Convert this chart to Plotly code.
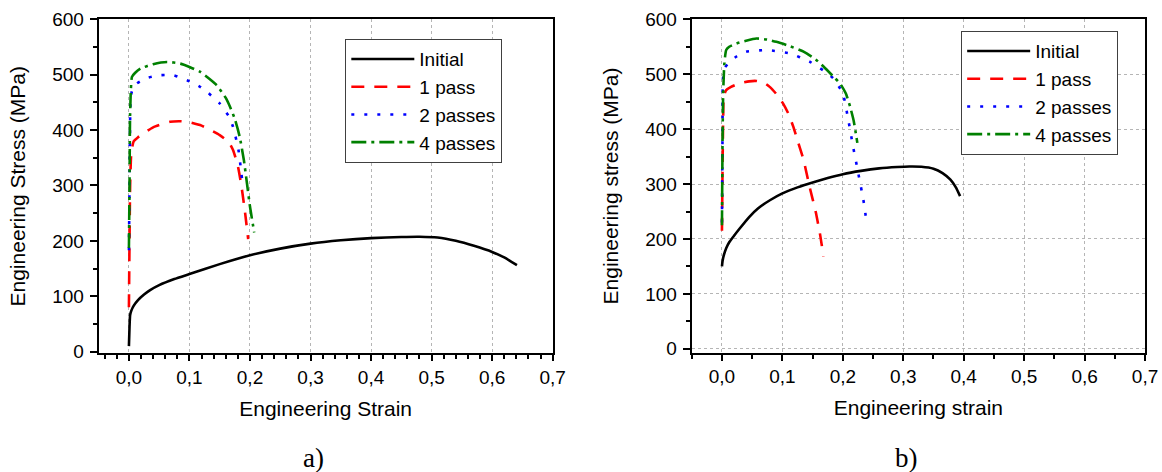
import plotly.graph_objects as go

# ---------------- data: panel a) ----------------
a_initial_strain = [0.0, 0.001, 0.002, 0.004, 0.008, 0.015, 0.025, 0.035, 0.05, 0.075, 0.1, 0.15, 0.2, 0.25, 0.3, 0.35, 0.4, 0.45, 0.48, 0.51, 0.54, 0.57, 0.6, 0.62, 0.641]
a_initial_stress = [10, 45, 66, 74, 83, 93, 103, 111, 120, 131, 140, 158, 174, 186, 195, 201, 205, 207, 207.5, 206, 200, 191, 180, 170, 156]

a_pass1_strain = [0.0, 0.001, 0.002, 0.004, 0.008, 0.015, 0.024, 0.04, 0.068, 0.085, 0.096, 0.12, 0.15, 0.165, 0.172, 0.18, 0.186, 0.192, 0.197]
a_pass1_stress = [80, 200, 300, 360, 380, 387, 394, 405, 415, 416, 415, 408, 391, 378, 364, 335, 298, 250, 203]

a_pass2_strain = [0.0, 0.001, 0.002, 0.003, 0.006, 0.013, 0.03, 0.052, 0.074, 0.096, 0.115, 0.129, 0.15, 0.165, 0.172, 0.181, 0.186, 0.188]
a_pass2_stress = [183, 300, 420, 460, 474, 484, 494, 499, 499, 490, 480, 469, 448, 425, 406, 364, 320, 300]

a_pass4_strain = [0.0, 0.001, 0.002, 0.005, 0.01, 0.019, 0.04, 0.063, 0.085, 0.1, 0.118, 0.145, 0.16, 0.167, 0.175, 0.183, 0.19, 0.195, 0.2, 0.207]
a_pass4_stress = [187, 300, 430, 496, 503, 511, 519, 523, 520, 514, 505, 481, 458, 442, 420, 388, 345, 304, 262, 215]

# ---------------- data: panel b) ----------------
b_initial_strain = [0.0, 0.001, 0.003, 0.007, 0.012, 0.02, 0.03, 0.045, 0.06, 0.08, 0.1, 0.125, 0.15, 0.175, 0.2, 0.23, 0.26, 0.29, 0.31, 0.33, 0.35, 0.365, 0.378, 0.387, 0.394]
b_initial_stress = [150, 160, 170, 183, 194, 206, 220, 240, 256, 271, 283, 294, 303, 311, 318, 324, 328.5, 331, 332, 331.5, 328, 320, 308, 294, 278]

b_pass1_strain = [0.0, 0.001, 0.002, 0.003, 0.007, 0.015, 0.029, 0.045, 0.057, 0.07, 0.079, 0.09, 0.101, 0.11, 0.118, 0.126, 0.135, 0.145, 0.155, 0.162, 0.168]
b_pass1_stress = [215, 330, 420, 460, 471, 477, 483.5, 487, 487.7, 484, 477, 464, 447, 428, 404.5, 376, 344, 295, 250, 210.5, 168]

b_pass2_strain = [0.0, 0.001, 0.0017, 0.005, 0.013, 0.025, 0.04, 0.074, 0.112, 0.145, 0.17, 0.184, 0.2, 0.209, 0.217, 0.2255, 0.234, 0.239]
b_pass2_stress = [230, 400, 492.6, 512, 523, 533, 541, 544, 538, 523, 505, 492.6, 465, 417, 368, 320, 271, 233]

b_pass4_strain = [0.0, 0.001, 0.002, 0.004, 0.007, 0.012, 0.024, 0.04, 0.057, 0.075, 0.09, 0.11, 0.135, 0.155, 0.168, 0.185, 0.195, 0.205, 0.212, 0.218, 0.224]
b_pass4_stress = [225, 380, 465, 520, 544, 550, 556, 561, 565, 563, 559, 552, 541, 527, 514, 495, 483.5, 465, 441, 415, 375]

series_names = ["Initial", "1 pass", "2 passes", "4 passes"]
series_colors = ["#000000", "#ff0000", "#0000ff", "#008000"]
series_dashes = ["solid", "13px,10px", "3px,10px", "15px,5px,3px,5px"]

x_tick_vals = [0.0, 0.1, 0.2, 0.3, 0.4, 0.5, 0.6, 0.7]
y_tick_vals = [0, 100, 200, 300, 400, 500, 600]

FONT = "Liberation Sans, Arial, sans-serif"

fig = go.Figure()

panel_a = [(a_initial_strain, a_initial_stress), (a_pass1_strain, a_pass1_stress),
           (a_pass2_strain, a_pass2_stress), (a_pass4_strain, a_pass4_stress)]
panel_b = [(b_initial_strain, b_initial_stress), (b_pass1_strain, b_pass1_stress),
           (b_pass2_strain, b_pass2_stress), (b_pass4_strain, b_pass4_stress)]

for i, (xs, ys) in enumerate(panel_a):
    fig.add_trace(go.Scatter(
        x=xs, y=ys, mode="lines", name=series_names[i],
        line=dict(color=series_colors[i], width=2.6, dash=series_dashes[i], shape="spline", smoothing=0.5),
        xaxis="x", yaxis="y", legend="legend"))

for i, (xs, ys) in enumerate(panel_b):
    fig.add_trace(go.Scatter(
        x=xs, y=ys, mode="lines", name=series_names[i],
        line=dict(color=series_colors[i], width=2.6, dash=series_dashes[i], shape="spline", smoothing=0.5),
        xaxis="x2", yaxis="y2", legend="legend2"))

tickfont = dict(family=FONT, size=19, color="black")
titlefont = dict(family=FONT, size=21, color="black")


def xaxis_cfg(domain, anchor, title, minor_dtick, grid):
    return dict(
        domain=domain, anchor=anchor, range=[-0.05, 0.7], automargin=False,
        tickmode="array", tickvals=x_tick_vals, tickformat=".1f",
        ticks="outside", ticklen=6, tickwidth=1.5, tickcolor="black",
        ticklabelstandoff=0,
        showline=True, linecolor="black", linewidth=2, mirror=True,
        showgrid=grid, gridcolor="#b5b5b5", griddash="dot", gridwidth=1,
        zeroline=False,
        minor=dict(dtick=minor_dtick, tick0=0, ticks="outside", ticklen=4,
                   tickwidth=1.5, tickcolor="black", showgrid=False),
        tickfont=tickfont,
        title=dict(text=title, font=titlefont, standoff=14),
    )


def yaxis_cfg(domain, anchor, title, rng, grid):
    return dict(
        domain=domain, anchor=anchor, range=rng, automargin=False,
        tickmode="array", tickvals=y_tick_vals,
        ticks="outside", ticklen=7, tickwidth=1.5, tickcolor="black",
        ticklabelstandoff=2,
        showline=True, linecolor="black", linewidth=2, mirror=True,
        showgrid=grid, gridcolor="#b5b5b5", griddash="dot", gridwidth=1,
        zeroline=False,
        minor=dict(dtick=50, tick0=0, ticks="outside", ticklen=4,
                   tickwidth=1.5, tickcolor="black", showgrid=False),
        tickfont=tickfont,
        title=dict(text=title, font=titlefont, standoff=21),
    )


legend_common = dict(
    xanchor="left", yanchor="top", bgcolor="white",
    bordercolor="#404040", borderwidth=1.2,
    font=dict(family=FONT, size=19, color="black"),
    itemwidth=63,
)

fig.update_layout(
    width=1162, height=472,
    margin=dict(l=0, r=0, t=0, b=0, autoexpand=False),
    paper_bgcolor="white", plot_bgcolor="white",
    separators=", ",
    showlegend=True,
    xaxis=xaxis_cfg([0.0849, 0.4756], "y", "Engineering Strain", 0.02, True),
    yaxis=yaxis_cfg([0.2515, 0.9591], "x", "Engineering Stress (MPa)", [-3, 600], False),
    xaxis2=xaxis_cfg([0.5953, 0.9854], "y2", "Engineering strain", 0.05, True),
    yaxis2=yaxis_cfg([0.2528, 0.9591], "x2", "Engineering stress (MPa)", [-7, 600], True),
    legend=dict(x=0.2970, y=1 - 39 / 472, **legend_common),
    legend2=dict(x=0.827, y=1 - 31 / 472, **legend_common),
    annotations=[
        dict(text="a)", x=0.2694, y=0.0297, xref="paper", yref="paper",
             xanchor="center", yanchor="middle",
             showarrow=False, font=dict(family="Liberation Serif, Times New Roman, serif", size=27, color="black")),
        dict(text="b)", x=0.7797, y=0.0297, xref="paper", yref="paper",
             xanchor="center", yanchor="middle",
             showarrow=False, font=dict(family="Liberation Serif, Times New Roman, serif", size=27, color="black")),
    ],
)

fig.write_html("out.html")
